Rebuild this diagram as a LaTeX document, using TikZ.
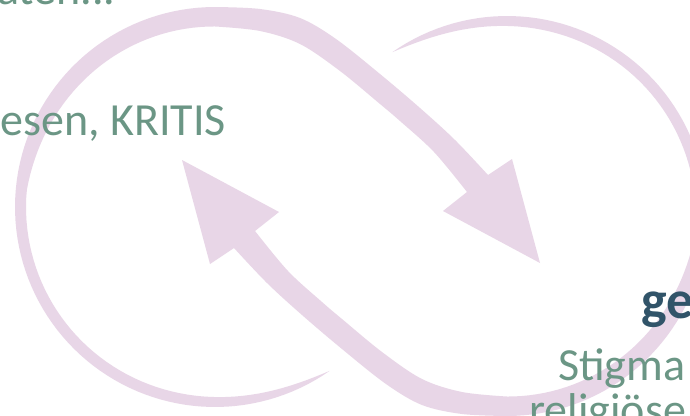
\documentclass[tikz,border=0pt]{standalone}
\usepackage{fontspec}
\setmainfont{Carlito}
\definecolor{arrowfill}{RGB}{232,214,231}
\definecolor{txtgreen}{RGB}{107,150,133}
\definecolor{txtblue}{RGB}{49,84,105}
\tikzset{
  txt/.style={font=\fontsize{46}{50}\selectfont, text=txtgreen, inner sep=0pt},
  hd/.style={font=\bfseries\fontsize{54}{60}\selectfont, text=txtblue, inner sep=0pt},
  loopfill/.style={fill=arrowfill, draw=none}
}
\newcommand\drawlooparrow{%
  \fill[loopfill]
    plot[domain=55:270, samples=90] ({215+200*cos(\x)},{207+200*sin(\x)})
    -- plot[smooth, tension=0.55] coordinates {(215,7) (260,9) (300,18) (336,39) (380,74) (420,108) (455,140) (488,175)}
    -- (512,159) -- (540,263) -- (443,211)
    -- plot[smooth, tension=0.55] coordinates {(467,192) (434,152) (400,121) (380,104) (340,71) (300,44) (260,31) (215,26.5)}
    -- plot[domain=270:55, samples=90]
       ({215+(200-11*(1-exp(-(\x-55)/15))-9*(1-exp(-max(0,\x-185)/30)))*cos(\x)},
        {207+(200-11*(1-exp(-(\x-55)/15))-9*(1-exp(-max(0,\x-185)/30)))*sin(\x)})
    -- cycle;}
\begin{document}
\begin{tikzpicture}[x=1pt, y=-1pt]
\useasboundingbox (0,0) rectangle (690,415);
\clip (0,0) rectangle (690,415);
\fill[white] (0,0) rectangle (690,415);
% left loop arrow
\drawlooparrow
% right loop arrow (point reflection)
\begin{scope}[rotate around={180:(361,211.5)}]
\drawlooparrow
\end{scope}
% texts
\node[txt, anchor=base west] (daten) at (-3,5) {aten...};
\node[txt, anchor=base east] (kritis) at (226,135) {esen, KRITIS};
\node[hd, anchor=base west] (ge) at (641,318) {ge};
\node[txt, anchor=base west] (stigma) at (558,380) {Stigma};
\node[txt, anchor=base west] (relig) at (529,425) {religiöse};
\end{tikzpicture}
\end{document}
